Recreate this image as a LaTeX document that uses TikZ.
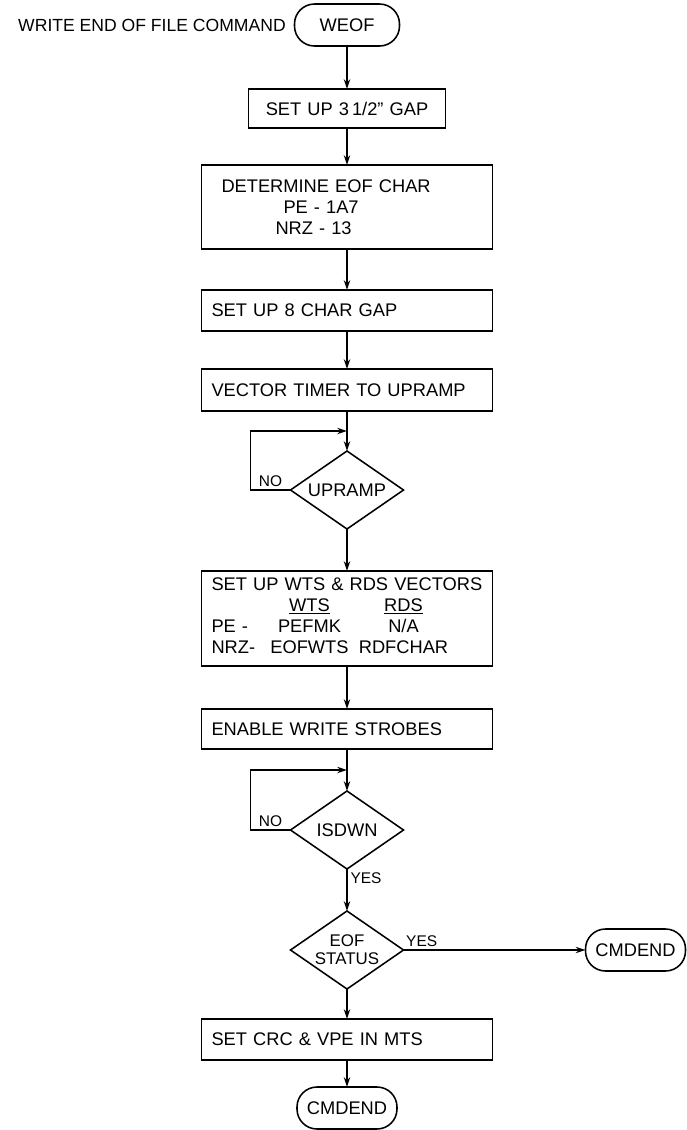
\documentclass[tikz,border=0pt]{standalone}
\usepackage{fontspec}
\setmainfont{Liberation Sans}
\usepackage{array}
\usetikzlibrary{shapes.geometric, arrows.meta, positioning, calc}

\begin{document}
\begin{tikzpicture}[
  font=\fontsize{13}{15}\selectfont,
  line width=1.1pt,
  node distance=1cm,
  block/.style={rectangle, draw, outer sep=0pt, minimum width=7.275cm,
                minimum height=1.025cm, text width=6.775cm, inner xsep=0.25cm,
                inner ysep=0pt, align=left},
  shortblock/.style={block, minimum width=4.925cm, minimum height=0.975cm,
                text width=4.425cm, align=center},
  term/.style={rectangle, rounded corners=0.5cm, draw, outer sep=0pt,
                minimum width=2.5cm, minimum height=1.05cm, align=center},
  decision/.style={diamond, draw, outer sep=0pt, aspect=1.45, minimum width=2.825cm,
                minimum height=1.95cm, inner sep=0pt, align=center},
  arrow/.style={-{Stealth[length=7pt, width=4.5pt]}},
  lbl/.style={font=\fontsize{11}{13}\selectfont, inner sep=2pt}
]
\useasboundingbox (0,0) rectangle (17.175,-28.25);

\node[term, minimum width=2.625cm] (weof) at (8.675,-0.625) {WEOF};
\node[left=0.2cm of weof, inner sep=0pt, font=\fontsize{12.5}{15}\selectfont]
    (title) {WRITE END OF FILE COMMAND};

\node[shortblock, below=1.075cm of weof] (gap) {SET UP 3\,1/2" GAP};

\node[block, below=0.925cm of gap, minimum height=2.1cm]
    (eofchar) {\hspace*{0.25cm}DETERMINE EOF CHAR\\
               \hspace*{1.8cm}PE - 1A7\\
               \hspace*{1.6cm}NRZ - 13};

\node[block, below=1.025cm of eofchar] (chargap) {SET UP 8 CHAR GAP};

\node[block, below=0.95cm of chargap, minimum height=1.05cm]
    (timer) {VECTOR TIMER TO UPRAMP};

\node[decision, below=1.0cm of timer] (upramp) {UPRAMP};

\node[block, below=1.05cm of upramp, minimum height=2.375cm]
    (vectors) {SET UP WTS \& RDS VECTORS\\
    \begin{tabular}[t]{@{}>{\raggedright\arraybackslash}p{1.25cm}@{}>{\centering\arraybackslash}p{2.4cm}@{}>{\centering\arraybackslash}p{2.3cm}@{}}
      & \underline{WTS} & \underline{RDS}\\
    PE - & PEFMK & N/A\\
    NRZ- & EOFWTS & RDFCHAR
    \end{tabular}};

\node[block, below=1.075cm of vectors, minimum height=1.0cm]
    (strobes) {ENABLE WRITE STROBES};

\node[decision, below=1.05cm of strobes] (isdwn) {ISDWN};

\node[decision, below=1.05cm of isdwn, inner sep=-0.2cm,
      font=\fontsize{12}{13}\selectfont] (status) {EOF\\STATUS};

\node[term, right=4.55cm of status] (endright) {CMDEND};

\node[block, below=0.75cm of status] (crc) {SET CRC \& VPE IN MTS};

\node[term, below=0.675cm of crc] (enddown) {CMDEND};

\coordinate (loopa) at ($(timer.south)!0.5!(upramp.north)$);
\coordinate (loopb) at ($(strobes.south)!0.5!(isdwn.north)$);

\draw[arrow] (weof) -- (gap);
\draw[arrow] (gap) -- (eofchar);
\draw[arrow] (eofchar) -- (chargap);
\draw[arrow] (chargap) -- (timer);
\draw[arrow] (timer) -- (upramp);
\draw[arrow] (upramp.west) -- node[lbl, above] {NO} ++(-1.0,0) |- (loopa);
\draw[arrow] (upramp) -- (vectors);
\draw[arrow] (vectors) -- (strobes);
\draw[arrow] (strobes) -- (isdwn);
\draw[arrow] (isdwn.west) -- node[lbl, above] {NO} ++(-1.0,0) |- (loopb);
\draw[arrow] (isdwn) -- node[lbl, right, pos=0.22] {YES} (status);
\draw[arrow] (status) -- node[lbl, above, pos=0.1] {YES} (endright);
\draw[arrow] (status) -- (crc);
\draw[arrow] (crc) -- (enddown);

\end{tikzpicture}
\end{document}
